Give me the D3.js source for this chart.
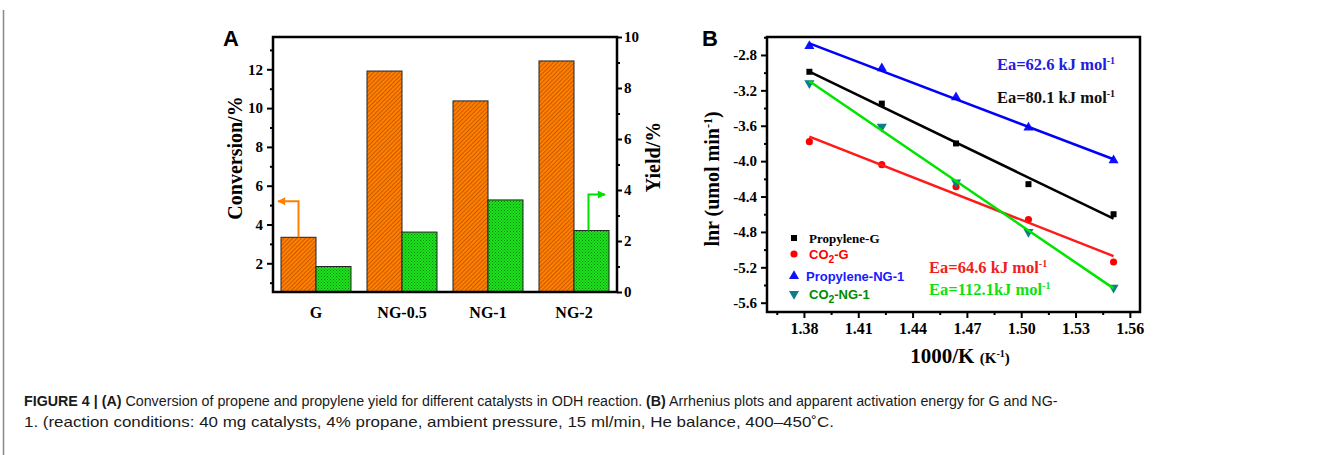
<!DOCTYPE html>
<html>
<head>
<meta charset="utf-8">
<script src="https://cdn.jsdelivr.net/npm/d3@7"></script>
<style>
  body { margin: 0; background: #fff; }
</style>
</head>
<body>
<script>
// panel A: conversion / yield per catalyst
const categories = ['G', 'NG-0.5', 'NG-1', 'NG-2'];
const conversion = [3.34, 11.91, 10.37, 12.43];
const yieldPct = [1.0, 2.35, 3.61, 2.41];
const convTicks = [2, 4, 6, 8, 10, 12];
const yieldTicks = [0, 2, 4, 6, 8, 10];

// panel B: Arrhenius plots
const invT = [1.383, 1.423, 1.464, 1.504, 1.551];
const propyleneG = [-2.99, -3.35, -3.80, -4.26, -4.60];
const co2G = [-3.78, -4.04, -4.29, -4.66, -5.14];
const propyleneNG1 = [-2.70, -2.95, -3.28, -3.62, -3.99];
const co2NG1 = [-3.12, -3.61, -4.24, -4.80, -5.43];
const lnrTicks = [-2.8, -3.2, -3.6, -4.0, -4.4, -4.8, -5.2, -5.6];
const invTTicks = [1.38, 1.41, 1.44, 1.47, 1.50, 1.53, 1.56];
const seriesNames = ['Propylene-G', 'CO2-G', 'Propylene-NG-1', 'CO2-NG-1'];
const eaValues = ['80.1', '64.6', '62.6', '112.1'];

const SERIF = "'Liberation Serif', 'Times New Roman', serif";
const SANS = "'Liberation Sans', Arial, sans-serif";

const svg = d3.select('body').append('svg')
  .attr('width', 1344)
  .attr('height', 455)
  .style('display', 'block');

const defs = svg.append('defs');

const grad = defs.append('linearGradient').attr('id', 'frameGrad');
grad.append('stop').attr('offset', '0%').attr('stop-color', '#555');
grad.append('stop').attr('offset', '100%').attr('stop-color', '#aaa');

// orange hatch
const hatch = defs.append('pattern')
  .attr('id', 'hatch')
  .attr('patternUnits', 'userSpaceOnUse')
  .attr('width', 3).attr('height', 3)
  .attr('patternTransform', 'rotate(45)');
hatch.append('rect').attr('width', 3).attr('height', 3).attr('fill', '#ff8000');
hatch.append('line').attr('x1', 0.5).attr('x2', 0.5).attr('y1', 0).attr('y2', 3)
  .attr('stroke', '#c85a00').attr('stroke-width', 1);

// green checker
const check = defs.append('pattern')
  .attr('id', 'check')
  .attr('patternUnits', 'userSpaceOnUse')
  .attr('width', 3).attr('height', 3);
check.append('rect').attr('width', 3).attr('height', 3).attr('fill', '#1ee01e');
check.append('rect').attr('width', 1).attr('height', 1).attr('fill', '#008a00');
check.append('rect').attr('x', 1.5).attr('y', 1.5).attr('width', 1).attr('height', 1).attr('fill', '#0a9a0a');

function arrowMarker(id, color) {
  defs.append('marker')
    .attr('id', id)
    .attr('viewBox', '0 0 10 10')
    .attr('refX', 9).attr('refY', 5)
    .attr('markerWidth', 5).attr('markerHeight', 4)
    .attr('markerUnits', 'strokeWidth')
    .attr('orient', 'auto')
    .append('path')
    .attr('d', 'M0,0 L10,5 L0,10 z')
    .attr('fill', color);
}
arrowMarker('arrOrange', '#ff8000');
arrowMarker('arrGreen', '#00e000');

// outer frame
svg.append('line').attr('x1', 3).attr('x2', 1344).attr('y1', 10.5).attr('y2', 10.5)
  .attr('stroke', 'url(#frameGrad)').attr('stroke-width', 1.5);
svg.append('line').attr('x1', 3.5).attr('x2', 3.5).attr('y1', 10).attr('y2', 455)
  .attr('stroke', '#888').attr('stroke-width', 1.5);

function styleAxis(g, size) {
  g.select('.domain').remove();
  g.selectAll('line').attr('stroke', '#000').attr('stroke-width', 2);
  g.selectAll('text')
    .attr('font-family', SERIF)
    .attr('font-weight', 'bold')
    .attr('font-size', size)
    .attr('fill', '#000');
}

// ---------------- panel A ----------------
const A = { left: 273, right: 617, top: 37, bottom: 292 };

const xA = d3.scaleBand()
  .domain(categories)
  .range([A.left, A.right])
  .paddingInner(0.186)
  .paddingOuter(0.093);

const xSub = d3.scaleBand()
  .domain(['conv', 'yield'])
  .range([0, xA.bandwidth()]);

const yConv = d3.scaleLinear().domain([0.52, 13.665]).range([A.bottom, A.top]);
const yYield = d3.scaleLinear().domain([0, 10]).range([A.bottom, A.top]);

const gA = svg.append('g');

gA.selectAll('rect.conv')
  .data(categories)
  .join('rect')
  .attr('class', 'conv')
  .attr('x', d => xA(d) + xSub('conv'))
  .attr('y', (d, i) => yConv(conversion[i]))
  .attr('width', xSub.bandwidth())
  .attr('height', (d, i) => A.bottom - yConv(conversion[i]))
  .attr('fill', 'url(#hatch)')
  .attr('stroke', '#222')
  .attr('stroke-width', 1);

gA.selectAll('rect.yield')
  .data(categories)
  .join('rect')
  .attr('class', 'yield')
  .attr('x', d => xA(d) + xSub('yield'))
  .attr('y', (d, i) => yYield(yieldPct[i]))
  .attr('width', xSub.bandwidth())
  .attr('height', (d, i) => A.bottom - yYield(yieldPct[i]))
  .attr('fill', 'url(#check)')
  .attr('stroke', '#222')
  .attr('stroke-width', 1);

// axes
gA.append('g')
  .attr('transform', `translate(${A.left},0)`)
  .call(d3.axisLeft(yConv).tickValues(d3.range(1, 14, 2)).tickSize(3).tickFormat(''))
  .call(g => styleAxis(g, 15));
gA.append('g')
  .attr('transform', `translate(${A.left},0)`)
  .call(d3.axisLeft(yConv).tickValues(convTicks).tickSize(6).tickPadding(4).tickFormat(d => d))
  .call(g => styleAxis(g, 15));

gA.append('g')
  .attr('transform', `translate(${A.right},0)`)
  .call(d3.axisRight(yYield).tickValues(d3.range(1, 10, 2)).tickSize(3).tickFormat(''))
  .call(g => styleAxis(g, 15));
gA.append('g')
  .attr('transform', `translate(${A.right},0)`)
  .call(d3.axisRight(yYield).tickValues(yieldTicks).tickSize(5).tickPadding(2).tickFormat(d => d))
  .call(g => styleAxis(g, 15));

gA.append('g')
  .attr('transform', `translate(0,${A.bottom})`)
  .call(d3.axisBottom(xA).tickSize(0).tickPadding(15))
  .call(g => styleAxis(g, 16));

gA.append('rect')
  .attr('x', A.left).attr('y', A.top)
  .attr('width', A.right - A.left).attr('height', A.bottom - A.top)
  .attr('fill', 'none').attr('stroke', '#000').attr('stroke-width', 2.5);

// arrows pointing to the axes
const gx = xA('G') + xSub('conv') + xSub.bandwidth() / 2;
gA.append('path')
  .attr('d', `M${gx},${yConv(conversion[0])} V${yConv(5.2)} H${A.left + 5}`)
  .attr('fill', 'none').attr('stroke', '#ff8000').attr('stroke-width', 2)
  .attr('marker-end', 'url(#arrOrange)');
const ng2x = xA('NG-2') + xSub('yield') + xSub.bandwidth() / 2 - 3;
gA.append('path')
  .attr('d', `M${ng2x},${yYield(yieldPct[3])} V${yYield(3.82)} H${A.right - 12}`)
  .attr('fill', 'none').attr('stroke', '#00e000').attr('stroke-width', 2)
  .attr('marker-end', 'url(#arrGreen)');

// titles
gA.append('text')
  .attr('transform', 'translate(242,158) rotate(-90)')
  .attr('text-anchor', 'middle')
  .attr('font-family', SERIF).attr('font-weight', 'bold').attr('font-size', 20)
  .text('Conversion/%');
gA.append('text')
  .attr('transform', 'translate(660,157) rotate(-90)')
  .attr('text-anchor', 'middle')
  .attr('font-family', SERIF).attr('font-weight', 'bold').attr('font-size', 20)
  .text('Yield/%');
gA.append('text')
  .attr('x', 223).attr('y', 46)
  .attr('font-family', SANS).attr('font-weight', 'bold').attr('font-size', 22)
  .text('A');

// ---------------- panel B ----------------
const B = { left: 767, right: 1140, top: 37, bottom: 312 };

const xB = d3.scaleLinear().domain([1.3596, 1.5656]).range([B.left, B.right]);
const yB = d3.scaleLinear().domain([-5.705, -2.597]).range([B.bottom, B.top]);

const gB = svg.append('g');

const series = [
  { name: seriesNames[0], values: propyleneG, mark: '#000', line: '#000', text: '#000', sym: d3.symbolSquare, size: 36, flip: false, ea: eaValues[0] },
  { name: seriesNames[1], values: co2G, mark: '#ff0000', line: '#ff1a1a', text: '#ff0000', sym: d3.symbolCircle, size: 40, flip: false, ea: eaValues[1] },
  { name: seriesNames[2], values: propyleneNG1, mark: '#1010ff', line: '#0000ff', text: '#1a1aff', sym: d3.symbolTriangle, size: 44, flip: false, ea: eaValues[2] },
  { name: seriesNames[3], values: co2NG1, mark: '#0a7f86', line: '#00e400', text: '#008a00', sym: d3.symbolTriangle, size: 44, flip: true, ea: eaValues[3] }
];

// least squares fit for each series
series.forEach(s => {
  const mx = d3.mean(invT), my = d3.mean(s.values);
  const num = d3.sum(invT, (x, i) => (x - mx) * (s.values[i] - my));
  const den = d3.sum(invT, x => (x - mx) * (x - mx));
  s.slope = num / den;
  s.intercept = my - s.slope * mx;
});

const line = d3.line().x(d => xB(d[0])).y(d => yB(d[1]));
const xExt = d3.extent(invT);

series.forEach(s => {
  gB.append('g')
    .selectAll('path')
    .data(invT)
    .join('path')
    .attr('d', d3.symbol().type(s.sym).size(s.size))
    .attr('transform', (d, i) => `translate(${xB(d)},${yB(s.values[i])})${s.flip ? ' rotate(180)' : ''}`)
    .attr('fill', s.mark);
});

series.forEach(s => {
  gB.append('path')
    .datum(xExt.map(x => [x, s.intercept + s.slope * x]))
    .attr('d', line)
    .attr('fill', 'none')
    .attr('stroke', s.line)
    .attr('stroke-width', 2.5);
});

// axes
gB.append('g')
  .attr('transform', `translate(${B.left},0)`)
  .call(d3.axisLeft(yB).tickValues(lnrTicks.map(v => v + 0.2)).tickSize(3).tickFormat(''))
  .call(g => styleAxis(g, 15));
gB.append('g')
  .attr('transform', `translate(${B.left},0)`)
  .call(d3.axisLeft(yB).tickValues(lnrTicks).tickSize(6).tickPadding(4).tickFormat(d => d.toFixed(1)))
  .call(g => styleAxis(g, 15));

gB.append('g')
  .attr('transform', `translate(0,${B.bottom})`)
  .call(d3.axisBottom(xB).tickValues(invTTicks.map(v => v - 0.015)).tickSize(3).tickFormat(''))
  .call(g => styleAxis(g, 16));
gB.append('g')
  .attr('transform', `translate(0,${B.bottom})`)
  .call(d3.axisBottom(xB).tickValues(invTTicks).tickSize(6).tickPadding(5).tickFormat(d => d.toFixed(2)))
  .call(g => styleAxis(g, 16));

gB.append('rect')
  .attr('x', B.left).attr('y', B.top)
  .attr('width', B.right - B.left).attr('height', B.bottom - B.top)
  .attr('fill', 'none').attr('stroke', '#000').attr('stroke-width', 2.5);

// text with CO2 subscript
function richName(sel, name) {
  if (name.startsWith('CO2')) {
    sel.append('tspan').text('CO');
    sel.append('tspan').attr('dy', 4).attr('font-size', '0.8em').text('2');
    sel.append('tspan').attr('dy', -4).text(name.slice(3));
  } else {
    sel.text(name);
  }
}

// legend
const legend = gB.append('g');
const legendY = [238, 254, 276, 294];
series.forEach((s, i) => {
  const y = legendY[i];
  legend.append('path')
    .attr('d', d3.symbol().type(s.sym).size(s.size))
    .attr('transform', `translate(794,${y})${s.flip ? ' rotate(180)' : ''}`)
    .attr('fill', s.mark);
  const t = legend.append('text')
    .attr('x', i === 2 ? 806 : 809).attr('y', y + 4.5)
    .attr('font-family', i === 0 ? SERIF : SANS)
    .attr('font-weight', 'bold')
    .attr('font-size', 13)
    .attr('fill', s.text);
  richName(t, s.name);
});

// activation energies
const eaPos = [
  { x: 1.4866, y: -3.343, color: '#111' },
  { x: 1.4491, y: -5.264, color: '#f02020' },
  { x: 1.4866, y: -2.970, color: '#2020e0' },
  { x: 1.4491, y: -5.513, color: '#10e010' }
];
series.forEach((s, i) => {
  const t = gB.append('text')
    .attr('x', xB(eaPos[i].x)).attr('y', yB(eaPos[i].y))
    .attr('font-family', SERIF).attr('font-weight', 'bold').attr('font-size', 16.5)
    .attr('fill', eaPos[i].color);
  t.append('tspan').text(`Ea=${s.ea}${i === 3 ? '' : ' '}kJ mol`);
  t.append('tspan').attr('dy', -6).attr('font-size', 10).text('-1');
});

// titles
const yt = gB.append('text')
  .attr('transform', 'translate(719,179) rotate(-90)')
  .attr('text-anchor', 'middle')
  .attr('font-family', SERIF).attr('font-weight', 'bold').attr('font-size', 20);
yt.append('tspan').text('lnr (umol min');
yt.append('tspan').attr('dy', -7).attr('font-size', 12).text('-1');
yt.append('tspan').attr('dy', 7).text(')');

const xt = gB.append('text')
  .attr('x', 960).attr('y', 363)
  .attr('text-anchor', 'middle')
  .attr('font-family', SERIF).attr('font-weight', 'bold').attr('font-size', 21);
xt.append('tspan').text('1000/K ');
xt.append('tspan').attr('font-size', 15).text('(K');
xt.append('tspan').attr('dy', -6).attr('font-size', 10).text('-1');
xt.append('tspan').attr('dy', 6).attr('font-size', 15).text(')');

gB.append('text')
  .attr('x', 702).attr('y', 46)
  .attr('font-family', SANS).attr('font-weight', 'bold').attr('font-size', 22)
  .text('B');

// ---------------- caption ----------------
function captionLine(parts, y, width) {
  const t = svg.append('text')
    .attr('font-family', SANS).attr('font-size', 15).attr('fill', '#1a1a1a');
  parts.forEach(p => {
    t.append('tspan').attr('font-weight', p.bold ? 'bold' : 'normal').text(p.text);
  });
  const w = t.node().getComputedTextLength();
  t.attr('transform', `translate(24,${y}) scale(${width / w},1)`);
}
captionLine([
  { text: 'FIGURE 4 | (A)', bold: true },
  { text: ' Conversion of propene and propylene yield for different catalysts in ODH reaction. ' },
  { text: '(B)', bold: true },
  { text: ' Arrhenius plots and apparent activation energy for G and NG-' }
], 406, 1035);
captionLine([
  { text: '1. (reaction conditions: 40 mg catalysts, 4% propane, ambient pressure, 15 ml/min, He balance, 400\u2013450\u02DAC.' }
], 427, 810);
</script>
</body>
</html>
